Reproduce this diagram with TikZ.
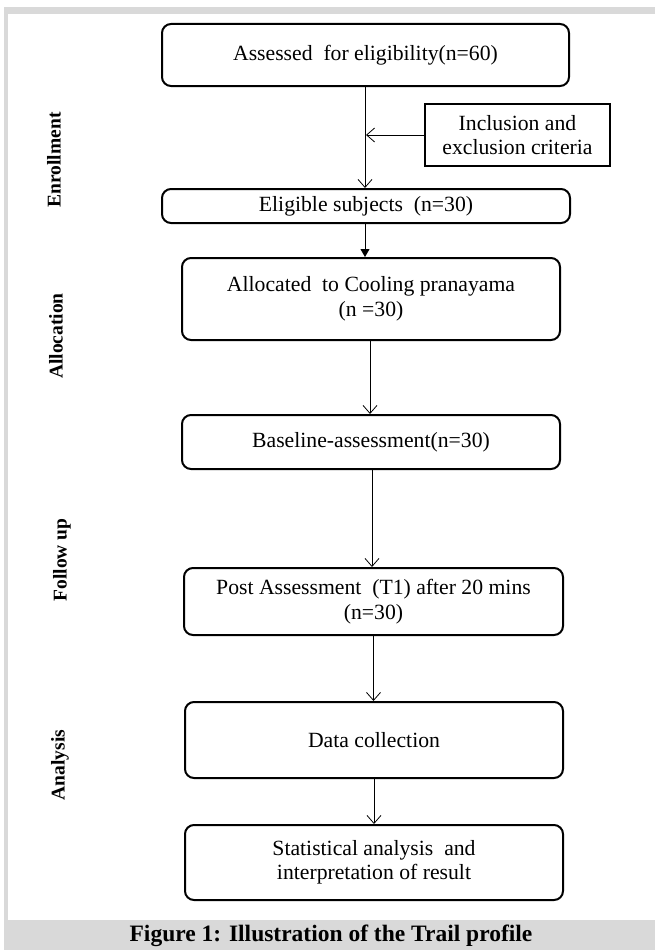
\documentclass[tikz,border=0pt]{standalone}
\usepackage{fontspec}
\setmainfont{Liberation Serif}
\usetikzlibrary{arrows.meta}
\definecolor{framegray}{HTML}{D9D9D9}
\begin{document}
\begin{tikzpicture}[x=1pt,y=-1pt,
  rbox/.style={draw, line width=2pt, rounded corners=9pt, align=center, inner sep=0pt, font=\fontsize{21.7}{24.5}\selectfont},
  sbox/.style={draw, line width=2.4pt, align=center, inner sep=0pt, font=\fontsize{21.7}{24.5}\selectfont},
  phase/.style={rotate=90, font=\bfseries\fontsize{19.5}{23}\selectfont},
  openarrow/.style={line width=0.8pt, -{Straight Barb[length=8pt,width=14pt,line width=0.8pt]}},
  fillarrow/.style={line width=0.8pt, -{Triangle[length=8pt,width=9pt]}}]
\useasboundingbox (0,0) rectangle (655,950);
\fill[white] (0,0) rectangle (655,950);
\fill[framegray] (4,7) rectangle (655,14);
\fill[framegray] (4,7) rectangle (8,920);
\fill[framegray] (4,920) rectangle (655,950);
\node[font=\bfseries\fontsize{23.5}{26}\selectfont] (cap) at (331,936) {Figure 1: Illustration of the Trail profile};

\node[rbox, minimum width=407pt, minimum height=62pt] (b1) at (365.5,55) {Assessed\ \ for eligibility(n=60)};
\node[sbox, minimum width=185pt, minimum height=62pt] (incl) at (517.5,135) {Inclusion and\\exclusion criteria};
\node[rbox, minimum width=408pt, minimum height=34pt] (elig) at (366,206) {Eligible subjects\ \ (n=30)};
\node[rbox, minimum width=378pt, minimum height=82pt] (alloc) at (371,299) {Allocated\ \ to Cooling pranayama\\(n =30)};
\node[rbox, minimum width=378pt, minimum height=54pt] (base) at (371,442) {Baseline-assessment(n=30)};
\node[rbox, minimum width=379pt, minimum height=67pt] (post) at (373.5,601.5) {Post Assessment\ \ (T1) after 20 mins\\(n=30)};
\node[rbox, minimum width=378pt, minimum height=76pt] (data) at (374,740) {Data collection};
\node[rbox, minimum width=378pt, minimum height=75pt] (stat) at (374,862.5) {Statistical analysis\ \ and\\interpretation of result};

\node[phase] (ph1) at (54,160) {Enrollment};
\node[phase] (ph2) at (56,336) {Allocation};
\node[phase] (ph3) at (62,560) {Follow up};
\node[phase] (ph4) at (60,765) {Analysis};

\coordinate (j1) at (365,135);
\draw[openarrow] (b1.south -| j1) -- (j1 |- elig.north);
\draw[openarrow] (incl.west) -- ([xshift=1pt]j1);
\draw[fillarrow] (elig.south -| j1) -- (j1 |- alloc.north);
\draw[openarrow] ([xshift=-1pt]alloc.south) -- ([xshift=-1pt]alloc.south |- base.north);
\draw[openarrow] ([xshift=1pt]base.south) -- ([xshift=1pt]base.south |- post.north);
\draw[openarrow] (post.south) -- (post.south |- data.north);
\draw[openarrow] (data.south) -- (data.south |- stat.north);
\end{tikzpicture}
\end{document}
